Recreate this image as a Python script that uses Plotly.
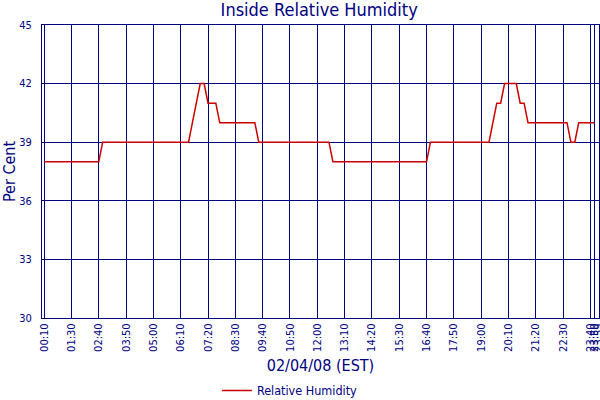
import plotly.graph_objects as go

# sample index -> relative humidity (%), one reading per sample
humidity = [
    38, 38, 38, 38, 38, 38, 38, 38, 38, 38, 38, 38, 38, 38, 38,
    39, 39, 39, 39, 39, 39, 39, 39, 39, 39, 39, 39, 39, 39, 39, 39, 39, 39, 39, 39, 39, 39, 39,
    40, 41, 42, 42, 41, 41, 41,
    40, 40, 40, 40, 40, 40, 40, 40, 40, 40,
    39, 39, 39, 39, 39, 39, 39, 39, 39, 39, 39, 39, 39, 39, 39, 39, 39, 39, 39,
    38, 38, 38, 38, 38, 38, 38, 38, 38, 38, 38, 38, 38, 38, 38, 38, 38, 38, 38, 38, 38, 38, 38, 38, 38,
    39, 39, 39, 39, 39, 39, 39, 39, 39, 39, 39, 39, 39, 39, 39, 39,
    40, 41, 41, 42, 42, 42, 42, 41, 41,
    40, 40, 40, 40, 40, 40, 40, 40, 40, 40, 40,
    39, 39,
    40, 40, 40, 40, 40,
]
sample = list(range(len(humidity)))

tick_pos = [0, 7, 14, 21, 28, 35, 42, 49, 56, 63, 70, 77, 84, 91, 98, 105,
            112, 119, 126, 133, 140, 141, 142]
tick_text = ['00:10', '01:30', '02:40', '03:50', '05:00', '06:10', '07:20',
             '08:30', '09:40', '10:50', '12:00', '13:10', '14:20', '15:30',
             '16:40', '17:50', '19:00', '20:10', '21:20', '22:30', '23:40',
             '23:50', '23:59']

navy = '#000080'
font = 'DejaVu Sans Condensed, DejaVu Sans'

fig = go.Figure()
fig.add_trace(go.Scatter(x=sample, y=humidity, mode='lines', name='Relative Humidity',
                         line=dict(color='#CC0000', width=1.5)))

fig.update_layout(
    width=600, height=400,
    margin=dict(l=42, r=1, t=25, b=82),
    paper_bgcolor='white', plot_bgcolor='white',
    title=dict(text='Inside Relative Humidity', x=0.532, xanchor='center', y=0.975, yanchor='middle',
               font=dict(family=font, size=18, color=navy)),
    font=dict(family=font, color=navy),
    showlegend=True,
    # container refs so the legend doesn't push the bottom margin
    legend=dict(orientation='h', xref='container', yref='container', x=0.3615, xanchor='left',
                y=0.023, yanchor='middle', font=dict(family=font, size=12.5, color=navy)),
)
fig.update_xaxes(
    range=[-0.55, 142.2], tickmode='array', tickvals=tick_pos, ticktext=tick_text,
    tickangle=-90, tickfont=dict(family=font, size=11, color=navy), showgrid=True, gridcolor=navy,
    gridwidth=1, showline=True, linecolor=navy, mirror=True, zeroline=False, ticks='',
    automargin=False, ticklabeloverflow='allow',
    title=dict(text='02/04/08 (EST)', font=dict(family=font, size=16, color=navy), standoff=8),
)
fig.update_yaxes(
    range=[30, 45], tickvals=[30, 33, 36, 39, 42, 45], tickfont=dict(family=font, size=11, color=navy),
    showgrid=True, gridcolor=navy, gridwidth=1, showline=True, linecolor=navy, mirror=True,
    zeroline=False, ticks='', automargin=False, ticklabelstandoff=7, ticklabeloverflow='allow',
    title=dict(text='Per Cent', font=dict(family=font, size=16, color=navy), standoff=2),
)

# page has a default 8px body margin; drop it so the figure sits at the corner
fig.write_html('out.html', config={'displayModeBar': False},
               post_script="document.body.style.margin='0';")
